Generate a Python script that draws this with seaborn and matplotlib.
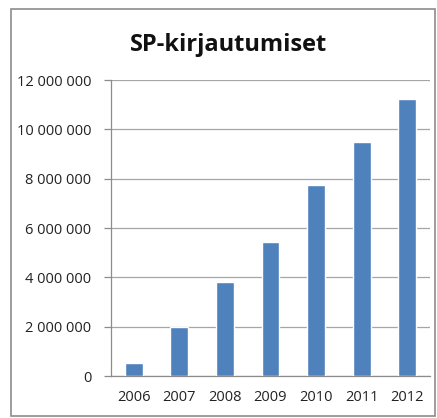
import matplotlib
matplotlib.use("Agg")
import matplotlib.pyplot as plt
import matplotlib.ticker as mticker
from matplotlib.patches import Rectangle
import numpy as np
import pandas as pd
import seaborn as sns

# data
years = ["2006", "2007", "2008", "2009", "2010", "2011", "2012"]
logins = [510000, 2000000, 3820000, 5420000, 7740000, 9470000, 11230000]

df = pd.DataFrame({"year": years, "logins": logins})

sns.set_theme(style="white")
plt.rcParams["font.family"] = ["Open Sans", "DejaVu Sans"]

fig = plt.figure(figsize=(4.37, 4.18), dpi=100)
fig.patch.set_facecolor("white")
ax = fig.add_axes([111 / 437, 1 - 376 / 418, 319 / 437, 296 / 418])

# outer chart frame
fig.patches.append(Rectangle((10.5 / 437, 1 - 416 / 418), 424.5 / 437, 407 / 418,
                             transform=fig.transFigure, fill=False,
                             edgecolor="#8c8c8c", linewidth=1.2))

sns.barplot(data=df, x="year", y="logins", color="#4F81BD", width=0.39,
            saturation=1, ax=ax, zorder=3)

ax.set_ylim(0, 12000000)
ax.set_xlim(-0.5, 6.5)
ax.yaxis.set_major_locator(mticker.MultipleLocator(2000000))
ax.yaxis.set_major_formatter(mticker.FuncFormatter(
    lambda v, p: f"{int(v):,}".replace(",", " ")))
ax.grid(axis="y", color="#a6a6a6", linewidth=0.9, zorder=0)
ax.set_axisbelow(True)

for s in ["top", "right"]:
    ax.spines[s].set_visible(False)
for s in ["left", "bottom"]:
    ax.spines[s].set_color("#8c8c8c")
    ax.spines[s].set_linewidth(0.9)

ax.set_xticks(np.arange(-0.5, 7, 1), minor=True)
ax.tick_params(axis="x", which="major", length=0, pad=10, labelsize=10.5, colors="#222222")
ax.tick_params(axis="x", which="minor", length=5, color="#8c8c8c", width=0.9)
ax.tick_params(axis="y", length=5, color="#8c8c8c", width=0.9, pad=9,
               labelsize=10.5, colors="#222222")
ax.tick_params(left=True, bottom=True)

ax.set_xlabel("")
ax.set_ylabel("")
fig.text(228.5 / 437, 1 - 45 / 418, "SP-kirjautumiset", ha="center", va="center",
         fontsize=17, fontweight="bold", color="#111111")

fig.savefig("out.png", dpi=100)
